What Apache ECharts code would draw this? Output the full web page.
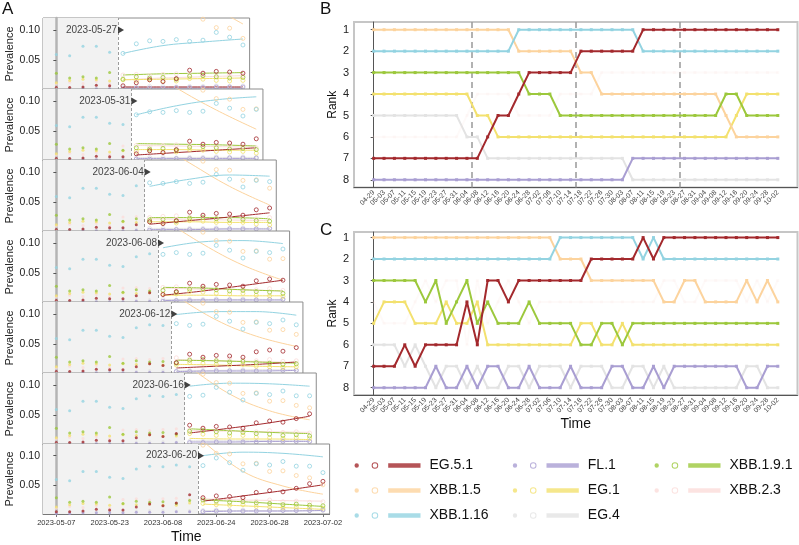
<!DOCTYPE html>
<html>
<head>
<meta charset="utf-8">
<script src="https://cdn.jsdelivr.net/npm/echarts@6/dist/echarts.min.js"></script>
<style>
  html, body { margin: 0; padding: 0; background: #fff; }
  #chart { width: 799px; height: 545px; }
</style>
</head>
<body>
<div id="chart"></div>
<script>
const FONT = '"Liberation Sans", Arial, Helvetica, sans-serif';

// drawing order: light colours first, EG.5.1 on top
const variants = ['EG.4', 'XBB.2.3', 'FL.1', 'EG.1', 'XBB.1.5', 'XBB.1.16', 'XBB.1.9.1', 'EG.5.1'];
const colors = {
  'EG.5.1': '#a3292d',
  'FL.1': '#a99ed2',
  'XBB.1.9.1': '#9cc83c',
  'XBB.1.5': '#fcd39d',
  'EG.1': '#f3e16f',
  'XBB.2.3': '#fbdcd9',
  'XBB.1.16': '#93d3e1',
  'EG.4': '#e3e3e3'
};

// ---- panel A : prevalence, one sub-plot per forecast date ----
const tickIdxA = [0, 4, 8, 12, 16, 20];
const tickLabelsA = ['2023-05-07', '2023-05-23', '2023-06-08', '2023-06-24', '2023-06-28', '2023-07-02'];
const cutoffsA = ['2023-05-27', '2023-05-31', '2023-06-04', '2023-06-08', '2023-06-12', '2023-06-16', '2023-06-20'];
const cutoffIdxA = [5, 6, 7, 8, 9, 10, 11];

// observed prevalence, index 0 = 2023-05-07, one point every 4 days
const obsEG51   = [0.004, 0.004, 0.005, 0.008, 0.007, 0.007, 0.012, 0.017, 0.014, 0.019, 0.033, 0.028, 0.031, 0.030, 0.028, 0.037, 0.040, 0.038, 0.044, 0.052, 0.056];
const obsXBB15  = [0.190, 0.180, 0.170, 0.165, 0.160, 0.155, 0.150, 0.140, 0.135, 0.128, 0.122, 0.118, 0.104, 0.103, 0.086, 0.087, 0.073, 0.074, 0.066, 0.062, 0.050];
const obsXBB116 = [0.059, 0.057, 0.073, 0.073, 0.063, 0.061, 0.077, 0.082, 0.081, 0.084, 0.081, 0.083, 0.096, 0.088, 0.075, 0.086, 0.084, 0.090, 0.082, 0.082, 0.071];
const obsXBB191 = [0.028, 0.020, 0.022, 0.020, 0.029, 0.018, 0.022, 0.020, 0.021, 0.018, 0.023, 0.024, 0.022, 0.020, 0.021, 0.019, 0.018, 0.016, 0.017, 0.015, 0.014];
const obsEG1    = [0.012, 0.016, 0.018, 0.017, 0.015, 0.017, 0.016, 0.017, 0.015, 0.015, 0.019, 0.018, 0.016, 0.015, 0.016, 0.013, 0.012, 0.011, 0.012, 0.011, 0.010];
const obsXBB23  = [0.010, 0.013, 0.011, 0.014, 0.010, 0.025, 0.026, 0.024, 0.026, 0.027, 0.025, 0.027, 0.023, 0.026, 0.024, 0.022, 0.024, 0.021, 0.022, 0.020, 0.021];
const obsFL1    = [0.001, 0.001, 0.002, 0.002, 0.002, 0.002, 0.003, 0.003, 0.003, 0.004, 0.004, 0.004, 0.005, 0.005, 0.005, 0.005, 0.006, 0.006, 0.006, 0.006, 0.007];
const obsEG4    = [0.003, 0.004, 0.004, 0.004, 0.005, 0.005, 0.005, 0.006, 0.006, 0.005, 0.006, 0.006, 0.007, 0.006, 0.007, 0.006, 0.006, 0.007, 0.006, 0.006, 0.006];

// fitted curves: values at cutoff + 0, 3, 6, 9 points, one row per sub-plot
const fitOffsets = [0, 3, 6, 9];
const fitEG51 = [
  [0.005, 0.005, 0.005, 0.005], [0.010, 0.014, 0.018, 0.022], [0.013, 0.019, 0.025, 0.032],
  [0.013, 0.020, 0.029, 0.038], [0.010, 0.013, 0.016, 0.020], [0.020, 0.028, 0.037, 0.048],
  [0.022, 0.031, 0.040, 0.050]];
const fitXBB15 = [
  [0.220, 0.183, 0.147, 0.110], [0.165, 0.122, 0.085, 0.053], [0.155, 0.115, 0.076, 0.045],
  [0.140, 0.098, 0.063, 0.038], [0.130, 0.090, 0.063, 0.046], [0.130, 0.085, 0.057, 0.042],
  [0.125, 0.073, 0.048, 0.034]];
const fitXBB116 = [
  [0.061, 0.074, 0.080, 0.085], [0.077, 0.092, 0.102, 0.107], [0.076, 0.088, 0.095, 0.093],
  [0.092, 0.102, 0.104, 0.099], [0.099, 0.104, 0.104, 0.098], [0.098, 0.103, 0.102, 0.098],
  [0.100, 0.106, 0.104, 0.098]];
const fitXBB191 = [
  [0.025, 0.027, 0.028, 0.029], [0.029, 0.028, 0.027, 0.025], [0.024, 0.024, 0.024, 0.022],
  [0.026, 0.025, 0.022, 0.020], [0.023, 0.022, 0.020, 0.018], [0.027, 0.024, 0.021, 0.019],
  [0.024, 0.021, 0.017, 0.013]];
const fitEG1 = [
  [0.017, 0.018, 0.019, 0.020], [0.019, 0.019, 0.018, 0.018], [0.017, 0.017, 0.016, 0.016],
  [0.013, 0.013, 0.012, 0.012], [0.016, 0.015, 0.013, 0.012], [0.011, 0.010, 0.010, 0.009],
  [0.017, 0.014, 0.011, 0.008]];
const fitXBB23 = [
  [0.017, 0.020, 0.022, 0.024], [0.026, 0.025, 0.024, 0.023], [0.022, 0.021, 0.020, 0.019],
  [0.025, 0.023, 0.022, 0.020], [0.024, 0.022, 0.021, 0.019], [0.024, 0.023, 0.022, 0.021],
  [0.026, 0.024, 0.023, 0.022]];
const fitFL1 = [
  [0.003, 0.003, 0.003, 0.003], [0.004, 0.004, 0.004, 0.004], [0.004, 0.004, 0.005, 0.005],
  [0.004, 0.005, 0.005, 0.005], [0.004, 0.005, 0.005, 0.006], [0.005, 0.005, 0.006, 0.006],
  [0.004, 0.005, 0.005, 0.006]];
const fitEG4 = [
  [0.005, 0.005, 0.005, 0.005], [0.006, 0.006, 0.006, 0.006], [0.006, 0.006, 0.006, 0.006],
  [0.006, 0.006, 0.006, 0.006], [0.006, 0.006, 0.007, 0.007], [0.007, 0.007, 0.007, 0.007],
  [0.006, 0.006, 0.006, 0.006]];

// ---- panels B and C : rank over time ----
const datesB = ['04-29', '05-03', '05-07', '05-11', '05-15', '05-19', '05-23', '05-27', '05-31', '06-04',
  '06-08', '06-12', '06-16', '06-20', '06-24', '06-28', '07-02', '07-06', '07-10', '07-14',
  '07-18', '07-22', '07-26', '07-30', '08-03', '08-07', '08-11', '08-15', '08-19', '08-23',
  '08-27', '08-31', '09-04', '09-08', '09-12', '09-16', '09-20', '09-24', '09-28', '10-02'];
const dashB = [9.5, 19.5, 29.5];

const rankB_EG51   = [7,7,7,7,7,7,7,7,7,7, 7,6,5,5,4,3,3,3,3,3, 2,2,2,2,2,2,1,1,1,1, 1,1,1,1,1,1,1,1,1,1];
const rankB_XBB15  = [1,1,1,1,1,1,1,1,1,1, 1,1,1,1,2,2,2,2,2,2, 3,3,4,4,4,4,4,4,4,4, 4,4,4,4,5,6,6,6,6,6];
const rankB_XBB116 = [2,2,2,2,2,2,2,2,2,2, 2,2,2,2,1,1,1,1,1,1, 1,1,1,1,1,1,2,2,2,2, 2,2,2,2,2,2,2,2,2,2];
const rankB_XBB191 = [3,3,3,3,3,3,3,3,3,3, 3,3,3,3,3,4,4,4,5,5, 5,5,5,5,5,5,5,5,5,5, 5,5,5,5,4,4,5,5,5,5];
const rankB_EG1    = [4,4,4,4,4,4,4,4,4,4, 5,5,6,6,6,6,6,6,6,6, 6,6,6,6,6,6,6,6,6,6, 6,6,6,6,6,5,4,4,4,4];
const rankB_XBB23  = [6,6,6,6,6,6,6,6,6,5, 4,4,4,4,5,5,5,5,4,4, 4,4,3,3,3,3,3,3,3,3, 3,3,3,3,3,3,3,3,3,3];
const rankB_EG4    = [5,5,5,5,5,5,5,5,5,6, 6,7,7,7,7,7,7,7,7,7, 7,7,7,7,7,8,8,8,8,8, 8,8,8,8,8,8,8,8,8,8];
const rankB_FL1    = [8,8,8,8,8,8,8,8,8,8, 8,8,8,8,8,8,8,8,8,8, 8,8,8,8,8,7,7,7,7,7, 7,7,7,7,7,7,7,7,7,7];

const rankC_EG51   = [7,7,7,6,7,6,6,6,6,4, 6,3,3,4,3,3,3,3,3,3, 3,2,2,2,2,2,1,2,1,1, 1,1,1,1,1,1,1,1,1,1];
const rankC_XBB15  = [1,1,1,1,1,1,1,1,1,1, 1,1,1,1,1,1,1,1,2,2, 2,3,3,3,3,3,3,3,4,4, 3,3,4,4,4,4,3,4,3,4];
const rankC_XBB116 = [2,2,2,2,2,2,2,2,2,2, 2,2,2,2,2,2,2,2,1,1, 1,1,1,1,1,1,2,1,2,2, 2,2,2,2,2,2,2,2,2,2];
const rankC_XBB191 = [3,3,3,3,3,4,3,5,4,3, 5,4,5,5,5,4,5,5,5,5, 6,6,5,5,6,5,5,5,5,5, 5,5,5,5,5,5,5,5,5,5];
const rankC_EG1    = [5,4,4,4,5,5,5,4,5,5, 4,6,6,6,6,6,6,6,6,6, 5,5,6,6,5,6,6,6,6,6, 6,6,6,6,6,6,6,6,6,6];
const rankC_XBB23  = [4,5,5,5,4,3,4,3,3,6, 3,5,4,3,4,5,4,4,4,4, 4,4,4,4,4,4,4,4,3,3, 4,4,3,3,3,3,4,3,4,3];
const rankC_EG4    = [6,6,6,7,6,7,8,7,7,8, 7,8,8,7,7,8,7,7,7,8, 7,7,7,8,8,7,7,8,7,8, 8,8,8,8,8,8,7,7,8,8];
const rankC_FL1    = [8,8,8,8,8,8,7,8,8,7, 8,7,7,8,8,7,8,8,8,7, 8,8,8,7,7,8,8,7,8,7, 7,7,7,7,7,7,8,8,7,7];

const obsA = {'EG.5.1': obsEG51, 'XBB.1.5': obsXBB15, 'XBB.1.16': obsXBB116, 'XBB.1.9.1': obsXBB191,
  'EG.1': obsEG1, 'XBB.2.3': obsXBB23, 'FL.1': obsFL1, 'EG.4': obsEG4};
const fitA = {'EG.5.1': fitEG51, 'XBB.1.5': fitXBB15, 'XBB.1.16': fitXBB116, 'XBB.1.9.1': fitXBB191,
  'EG.1': fitEG1, 'XBB.2.3': fitXBB23, 'FL.1': fitFL1, 'EG.4': fitEG4};
const rankB = {'EG.5.1': rankB_EG51, 'XBB.1.5': rankB_XBB15, 'XBB.1.16': rankB_XBB116, 'XBB.1.9.1': rankB_XBB191,
  'EG.1': rankB_EG1, 'XBB.2.3': rankB_XBB23, 'FL.1': rankB_FL1, 'EG.4': rankB_EG4};
const rankC = {'EG.5.1': rankC_EG51, 'XBB.1.5': rankC_XBB15, 'XBB.1.16': rankC_XBB116, 'XBB.1.9.1': rankC_XBB191,
  'EG.1': rankC_EG1, 'XBB.2.3': rankC_XBB23, 'FL.1': rankC_FL1, 'EG.4': rankC_EG4};

const chart = echarts.init(document.getElementById('chart'), null, {renderer: 'canvas'});

const grids = [], xAxes = [], yAxes = [], series = [];

// panel A layout
const A_LEFT = 43, A_TOP = 18, A_STEP = 71, A_H = 72, A_PX = 13.33;

cutoffIdxA.forEach((s, k) => {
  const e = s + 9;
  const xMin = -1, xMax = e + 0.5;
  const dash = s - 0.37;
  const base = 10 * k;
  const last = k === cutoffIdxA.length - 1;

  grids.push({
    left: A_LEFT, top: A_TOP + k * A_STEP, width: (xMax - xMin) * A_PX, height: A_H,
    show: true, backgroundColor: '#fff', borderColor: '#8c8c8c', borderWidth: 1, z: base
  });
  xAxes.push({
    type: 'value', gridIndex: k, min: xMin, max: xMax, z: base + 1, show: last,
    splitLine: {show: false},
    axisLine: {show: true, lineStyle: {color: '#777'}},
    axisTick: {show: true, customValues: tickIdxA, length: 3, lineStyle: {color: '#777'}},
    axisLabel: {
      customValues: tickIdxA, formatter: v => tickLabelsA[tickIdxA.indexOf(v)],
      fontSize: 7.5, color: '#333', margin: 5, fontFamily: FONT
    },
    name: last ? 'Time' : '', nameLocation: 'middle', nameGap: 16, nameMoveOverlap: false,
    nameTextStyle: {fontSize: 14, color: '#111', fontFamily: FONT}
  });
  yAxes.push({
    type: 'value', gridIndex: k, min: 0, max: 0.12, z: base + 1,
    splitLine: {show: false},
    axisLine: {show: true, lineStyle: {color: '#b4b4b4', width: 2.5}},
    axisTick: {show: true, customValues: [0.05, 0.1], length: 3, lineStyle: {color: '#555'}},
    axisLabel: {customValues: [0.05, 0.1], formatter: v => v.toFixed(2), fontSize: 10.5, color: '#222', margin: 3, fontFamily: FONT},
    name: 'Prevalence', nameLocation: 'middle', nameRotate: 90, nameGap: 28,
    nameTextStyle: {fontSize: 11, color: '#222', fontFamily: FONT}
  });

  // shaded history + dashed cutoff line
  series.push({
    type: 'line', name: 'bg' + k, xAxisIndex: k, yAxisIndex: k, z: base + 1, silent: true,
    data: [[dash, null]], symbol: 'none',
    markArea: {silent: true, z: base + 1, itemStyle: {color: '#f2f2f2'}, data: [[{xAxis: xMin}, {xAxis: dash}]]},
    markLine: {
      silent: true, z: base + 1, symbol: ['none', 'none'], label: {show: false},
      lineStyle: {color: '#9c9c9c', type: [3, 2], width: 1}, data: [{xAxis: dash}]
    }
  });

  variants.forEach(v => {
    const fit = fitA[v][k];
    series.push({
      type: 'line', name: v + ' fit ' + k, xAxisIndex: k, yAxisIndex: k, z: base + 2, silent: true,
      data: fitOffsets.map((o, j) => [s + o, fit[j]]), smooth: 0.4, symbol: 'none',
      lineStyle: {color: colors[v], width: 1}
    });
  });
  variants.forEach(v => {
    const obs = obsA[v];
    series.push({
      type: 'scatter', name: k === 0 ? v : v + ' obs ' + k, xAxisIndex: k, yAxisIndex: k, z: base + 3, silent: true,
      data: obs.slice(0, s).map((y, i) => [i, y]), symbolSize: 3,
      itemStyle: {color: colors[v]}
    });
    series.push({
      type: 'scatter', name: v + ' new ' + k, xAxisIndex: k, yAxisIndex: k, z: base + 3, silent: true,
      data: obs.slice(s, e + 1).map((y, i) => [s + i, y]), symbol: 'circle', symbolSize: 4,
      itemStyle: {color: 'rgba(255,255,255,0)', borderColor: colors[v], borderWidth: 1}
    });
  });

  // forecast date label with arrow
  series.push({
    type: 'scatter', name: 'cut' + k, xAxisIndex: k, yAxisIndex: k, z: base + 5, silent: true,
    data: [[dash, 0.1]], symbol: 'triangle', symbolRotate: -90, symbolSize: [7, 6], symbolOffset: [3, 0],
    itemStyle: {color: '#111'},
    label: {show: true, position: 'left', distance: 1, formatter: cutoffsA[k], fontSize: 10, color: '#111', fontFamily: FONT}
  });
});

// panels B and C
function rankPanel(idx, top, height, yMin, yMax, ranks, withTime) {
  grids.push({left: 354, top: top, width: 443.5, height: height, show: true,
    backgroundColor: '#fff', borderColor: '#c6c6c6', borderWidth: 2, z: 100});
  xAxes.push({
    type: 'value', gridIndex: idx, min: -1.9, max: 40.9, z: 101,
    splitLine: {show: false},
    axisLine: {show: true, lineStyle: {color: '#555'}},
    axisTick: {show: false},
    axisLabel: {customValues: datesB.map((d, i) => i), formatter: v => datesB[v], rotate: 45,
      fontSize: 7, color: '#444', margin: 4, fontFamily: FONT},
    name: withTime ? 'Time' : '', nameLocation: 'middle', nameGap: 22,
    nameTextStyle: {fontSize: 14, color: '#111', fontFamily: FONT}
  });
  yAxes.push({
    type: 'value', gridIndex: idx, min: yMin, max: yMax, inverse: true, z: 101,
    splitLine: {show: false},
    axisLine: {show: true, lineStyle: {color: '#555'}},
    axisTick: {show: true, customValues: [1, 2, 3, 4, 5, 6, 7, 8], length: 3, lineStyle: {color: '#555'}},
    axisLabel: {customValues: [1, 2, 3, 4, 5, 6, 7, 8], fontSize: 11, color: '#222', margin: 5, fontFamily: FONT},
    name: 'Rank', nameLocation: 'middle', nameRotate: 90, nameGap: 15, nameMoveOverlap: false,
    nameTextStyle: {fontSize: 12, color: '#111', fontFamily: FONT}
  });
  variants.forEach((v, j) => {
    // XBB.2.3 is almost invisible in the rank panels
    const op = v === 'XBB.2.3' ? 0.15 : 1;
    series.push({
      type: 'line', name: v + ' rank ' + idx, xAxisIndex: idx, yAxisIndex: idx, z: 110 + j, silent: true,
      data: ranks[v].map((r, i) => [i, r]), symbol: 'rect', symbolSize: 3, showSymbol: true,
      lineStyle: {color: colors[v], width: 2, opacity: op}, itemStyle: {color: colors[v], opacity: op}
    });
  });
}

rankPanel(7, 22, 165.5, 0.64, 8.36, rankB, false);
series.push({
  type: 'line', name: 'dashB', xAxisIndex: 7, yAxisIndex: 7, z: 105, silent: true,
  data: [[dashB[0], null]], symbol: 'none',
  markLine: {silent: true, z: 105, symbol: ['none', 'none'], label: {show: false},
    lineStyle: {color: '#999', type: [6, 4], width: 1.5},
    data: dashB.map(x => ({xAxis: x}))}
});
rankPanel(8, 232, 163, 0.74, 8.34, rankC, true);

// legend: filled dot, open circle and line in one icon
const legendIcon = 'path://M0,3.5 A2.2,2.2 0 1 0 4.4,3.5 A2.2,2.2 0 1 0 0,3.5 Z ' +
  'M17.2,3.5 A3.3,3.3 0 1 0 23.8,3.5 A3.3,3.3 0 1 0 17.2,3.5 Z ' +
  'M18.2,3.5 A2.3,2.3 0 1 1 22.8,3.5 A2.3,2.3 0 1 1 18.2,3.5 Z ' +
  'M33.8,1.2 L66.2,1.2 L66.2,5.8 L33.8,5.8 Z';
const legendCols = [
  {left: 354.5, data: ['EG.5.1', 'XBB.1.5', 'XBB.1.16']},
  {left: 512.8, data: ['FL.1', 'EG.1', 'EG.4']},
  {left: 654.5, data: ['XBB.1.9.1', 'XBB.2.3']}
];

const option = {
  animation: false,
  backgroundColor: '#fff',
  textStyle: {fontFamily: FONT},
  title: [
    {text: 'A', left: 2, top: 1, padding: 0, textStyle: {fontSize: 17, fontWeight: 'normal', color: '#111', fontFamily: FONT}},
    {text: 'B', left: 320, top: 1, padding: 0, textStyle: {fontSize: 17, fontWeight: 'normal', color: '#111', fontFamily: FONT}},
    {text: 'C', left: 320, top: 222, padding: 0, textStyle: {fontSize: 17, fontWeight: 'normal', color: '#111', fontFamily: FONT}}
  ],
  legend: legendCols.map(c => ({
    left: c.left, top: 457.5, orient: 'vertical', padding: 0, itemGap: 9,
    itemWidth: 66, itemHeight: 7, icon: legendIcon, selectedMode: false,
    data: c.data,
    textStyle: {fontSize: 14, lineHeight: 16, color: '#111', fontFamily: FONT, padding: [0, 0, 0, 4]}
  })),
  grid: grids,
  xAxis: xAxes,
  yAxis: yAxes,
  series: series
};

chart.setOption(option);
</script>
</body>
</html>
